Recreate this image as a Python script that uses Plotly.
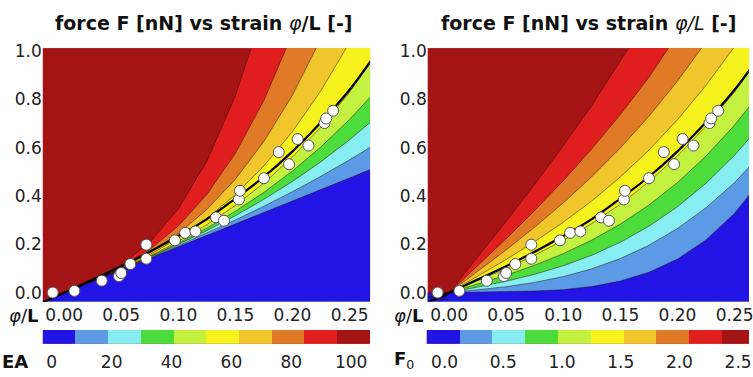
import plotly.graph_objects as go
import numpy as np

# ---------------- data ----------------
strain = [-0.010, 0.009, 0.033, 0.048, 0.050, 0.058, 0.072, 0.072, 0.097, 0.106, 0.115,
          0.133, 0.140, 0.153, 0.154, 0.175, 0.188, 0.197, 0.2045, 0.214, 0.228, 0.2295, 0.2356]
force = [0.001, 0.008, 0.050, 0.069, 0.082, 0.119, 0.141, 0.199, 0.217, 0.248, 0.254,
         0.312, 0.298, 0.386, 0.422, 0.474, 0.582, 0.532, 0.636, 0.609, 0.702, 0.721, 0.753]

fit_strain = [-0.05, -0.019, 0.0, 0.025, 0.05, 0.075, 0.10, 0.125, 0.15, 0.175, 0.20, 0.225, 0.25, 0.268, 0.30]
fit_force = [-0.105, -0.040, 0.0, 0.055, 0.11, 0.17, 0.235, 0.305, 0.39, 0.48, 0.585, 0.705, 0.84, 0.955, 1.18]

band_colors = ["#2314e6", "#5b9be6", "#86eef0", "#4cdc3c", "#c4f040",
               "#f6f21e", "#f0c62c", "#e07a26", "#e01e1e", "#a51414"]

ea_ticks = [0, 20, 40, 60, 80, 100]
ea_levels = [0, 10, 20, 30, 40, 50, 60, 70, 80, 90, 100]
f0_ticks = [0.0, 0.5, 1.0, 1.5, 2.0, 2.5]
f0_levels = [0.0, 0.25, 0.5, 0.75, 1.0, 1.25, 1.5, 1.75, 2.0, 2.25, 2.5]

x_ticks = [0.0, 0.05, 0.10, 0.15, 0.20, 0.25]
y_ticks = [0.0, 0.2, 0.4, 0.6, 0.8, 1.0]

# contour level boundaries (lower band | upper band), read as polylines on a strain grid
grid = [-0.05, 0.0, 0.025, 0.05, 0.075, 0.10, 0.125, 0.15, 0.175, 0.20, 0.225, 0.25, 0.275, 0.30]

left_levels_force = [
    [-0.095, 0, 0.0475, 0.095, 0.1425, 0.19, 0.2375, 0.285, 0.3325, 0.38, 0.4275, 0.475, 0.5225, 0.57],
    [-0.0956, 0, 0.0476, 0.0956, 0.1445, 0.1948, 0.2469, 0.3012, 0.3582, 0.4184, 0.4822, 0.55, 0.6223, 0.6996],
    [-0.0963, 0, 0.0477, 0.0963, 0.1468, 0.2001, 0.2572, 0.3191, 0.3866, 0.4608, 0.5425, 0.6328, 0.7326, 0.8427],
    [-0.0969, 0, 0.0477, 0.0969, 0.149, 0.2055, 0.2678, 0.3373, 0.4156, 0.504, 0.604, 0.7172, 0.8449, 0.9885],
    [-0.0978, 0, 0.0479, 0.0978, 0.1521, 0.2127, 0.2818, 0.3616, 0.4542, 0.5616, 0.6861, 0.8297, 0.9947, 1.1829],
    [-0.0995, 0, 0.0481, 0.0995, 0.1576, 0.2259, 0.3076, 0.4062, 0.5249, 0.6672, 0.8364, 1.0359, 1.2692],
    [-0.1019, 0, 0.0484, 0.1019, 0.1656, 0.2448, 0.3445, 0.47, 0.6262, 0.8184, 1.0517, 1.3313],
    [-0.1058, 0, 0.0489, 0.1058, 0.179, 0.2765, 0.4064, 0.5769, 0.7961, 1.072, 1.4128],
    [-0.1146, 0, 0.05, 0.1146, 0.2087, 0.347, 0.5441, 0.8149, 1.1739, 1.636],
]

right_levels_force = [
    [-0.003, 0, 0.001, 0.003, 0.007, 0.013, 0.026, 0.0485, 0.0848, 0.1396, 0.2189, 0.3289, 0.477, 0.671],
    [-0.0253, 0, 0.0116, 0.0253, 0.0431, 0.067, 0.0993, 0.1418, 0.1967, 0.266, 0.3519, 0.4563, 0.5814, 0.729],
    [-0.0478, 0, 0.0228, 0.0478, 0.0768, 0.112, 0.1555, 0.2093, 0.2754, 0.356, 0.4531, 0.5688, 0.7051, 0.864],
    [-0.0728, 0, 0.0353, 0.0728, 0.1143, 0.162, 0.218, 0.2843, 0.3629, 0.456, 0.5656, 0.6938, 0.8426, 1.014],
    [-0.1003, 0, 0.0491, 0.1003, 0.1556, 0.217, 0.2868, 0.3668, 0.4592, 0.566, 0.6894, 0.8313, 0.9939, 1.179],
    [-0.1378, 0, 0.0678, 0.1378, 0.2118, 0.292, 0.3805, 0.4793, 0.5904, 0.716, 0.8581, 1.0188, 1.2],
    [-0.1778, 0, 0.0878, 0.1778, 0.2718, 0.372, 0.4805, 0.5993, 0.7304, 0.876, 1.0381, 1.2188],
    [-0.2238, 0, 0.1108, 0.2238, 0.3408, 0.464, 0.5955, 0.7373, 0.8914, 1.06, 1.2451],
    [-0.2958, 0, 0.1468, 0.2958, 0.4488, 0.608, 0.7755, 0.9533, 1.1434],
]

# ---------------- figure ----------------
W, H = 753, 377
fig = go.Figure()

def add_panel(levels_force, xa, ya):
    bounds = [(grid[:len(f)], f) for f in levels_force]
    # regions below each boundary, drawn from the top band downwards
    for k in range(len(bounds) - 1, -1, -1):
        bx, by = bounds[k]
        px = list(bx) + [bx[-1], 5, 5, -5]
        py = list(by) + [5, 5, -5, -5]
        fig.add_trace(go.Scatter(x=px, y=py, fill="toself", fillcolor=band_colors[k],
                                 mode="lines", line=dict(width=0), hoverinfo="skip",
                                 showlegend=False, xaxis=xa, yaxis=ya))
    for bx, by in bounds:
        fig.add_trace(go.Scatter(x=bx, y=by, mode="lines",
                                 line=dict(width=0.7, color="rgba(40,10,10,0.7)"),
                                 hoverinfo="skip", showlegend=False, xaxis=xa, yaxis=ya))
    fig.add_trace(go.Scatter(x=fit_strain, y=fit_force, mode="lines", line_shape="spline",
                             line=dict(width=2.2, color="black"),
                             hoverinfo="skip", showlegend=False, xaxis=xa, yaxis=ya))
    fig.add_trace(go.Scatter(x=strain, y=force, mode="markers",
                             marker=dict(size=11, color="white", line=dict(width=1, color="#555555")),
                             showlegend=False, xaxis=xa, yaxis=ya, cliponaxis=True))

add_panel(left_levels_force, "x", "y")
add_panel(right_levels_force, "x2", "y2")

cscale = []
for i, c in enumerate(band_colors):
    cscale.append([i / 10, c])
    cscale.append([(i + 1) / 10, c])

# colour bars
ea_rng = [-3.0, 106.3]
ea_edges = list(np.linspace(ea_rng[0], ea_rng[1], len(ea_levels)))
fig.add_trace(go.Heatmap(z=[[(ea_levels[i] + ea_levels[i + 1]) / 2 for i in range(10)]],
                         x=ea_edges, y=[0, 1], zmin=0, zmax=100, colorscale=cscale,
                         showscale=False, hoverinfo="skip", xaxis="x3", yaxis="y3"))
f0_rng = [-0.1525, 2.644]
f0_edges = list(np.linspace(f0_rng[0], f0_rng[1], len(f0_levels)))
fig.add_trace(go.Heatmap(z=[[(f0_levels[i] + f0_levels[i + 1]) / 2 for i in range(10)]],
                         x=f0_edges, y=[0, 1], zmin=0, zmax=2.5, colorscale=cscale,
                         showscale=False, hoverinfo="skip", xaxis="x4", yaxis="y4"))

FONT = "DejaVu Sans, sans-serif"
tickfont = dict(family=FONT, size=17, color="#222222")
xr = [-0.0187, 0.2679]
xr2 = [-0.0187, 0.2626]
yr = [-0.0364, 1.0121]
ydom = [(H - 301) / H, (H - 42) / H]
cbdom = [(H - 344) / H, (H - 330) / H]

common_x = dict(tickvals=x_ticks, tickformat=".2f", ticks="", showgrid=False, zeroline=False,
                showline=False, tickfont=tickfont, fixedrange=True, ticklabelstandoff=1,
                ticklabeloverflow="allow")
common_y = dict(tickvals=y_ticks, tickformat=".1f", ticks="", showgrid=False, zeroline=False,
                showline=False, tickfont=tickfont, range=yr, domain=ydom)

fig.update_layout(
    width=W, height=H, margin=dict(l=0, r=0, t=0, b=0),
    paper_bgcolor="white", plot_bgcolor=band_colors[-1],
    xaxis=dict(domain=[43 / W, 372 / W], range=xr, anchor="y", **common_x),
    yaxis=dict(anchor="x", **common_y),
    xaxis2=dict(domain=[430 / W, 1.0], range=xr2, anchor="y2", **common_x),
    yaxis2=dict(anchor="x2", **common_y),
    xaxis3=dict(domain=[43 / W, 372 / W], range=ea_rng, anchor="y3", tickvals=ea_ticks,
                ticks="", showgrid=False, zeroline=False, tickfont=tickfont,
                ticklabelstandoff=6, ticklabeloverflow="allow"),
    yaxis3=dict(domain=cbdom, range=[0, 1], anchor="x3", visible=False),
    xaxis4=dict(domain=[429 / W, 1.0], range=[f0_rng[0], 2.593], anchor="y4", tickvals=f0_ticks,
                tickformat=".1f", ticks="", showgrid=False, zeroline=False, tickfont=tickfont,
                ticklabelstandoff=6, ticklabeloverflow="allow"),
    yaxis4=dict(domain=cbdom, range=[0, 1], anchor="x4", visible=False),
)

titlefont = dict(family=FONT, size=19, color="#111111")
ann = [
    dict(text="<b>force F [nN] vs strain </b><i>φ</i><b>/L [-]</b>", x=205 / W, y=1 - 16 / H),
    dict(text="<b>force F [nN] vs strain </b><i>φ/L</i><b> [-]</b>", x=592 / W, y=1 - 16 / H),
]
for a in ann:
    fig.add_annotation(xref="paper", yref="paper", xanchor="center", yanchor="middle",
                       showarrow=False, font=titlefont, **a)

labfont = dict(family=FONT, size=18, color="#111111")
for txt, xp, yp in [("<i>φ</i>/<b>L</b>", 24, 315), ("<i>φ</i>/<b>L</b>", 411, 315),
                    ("<b>EA</b>", 15, 362), ("<b>F</b><sub>0</sub>", 406, 361)]:
    fig.add_annotation(xref="paper", yref="paper", x=xp / W, y=1 - yp / H, text=txt,
                       showarrow=False, xanchor="center", yanchor="middle", font=labfont)

fig.write_html("out.html")
